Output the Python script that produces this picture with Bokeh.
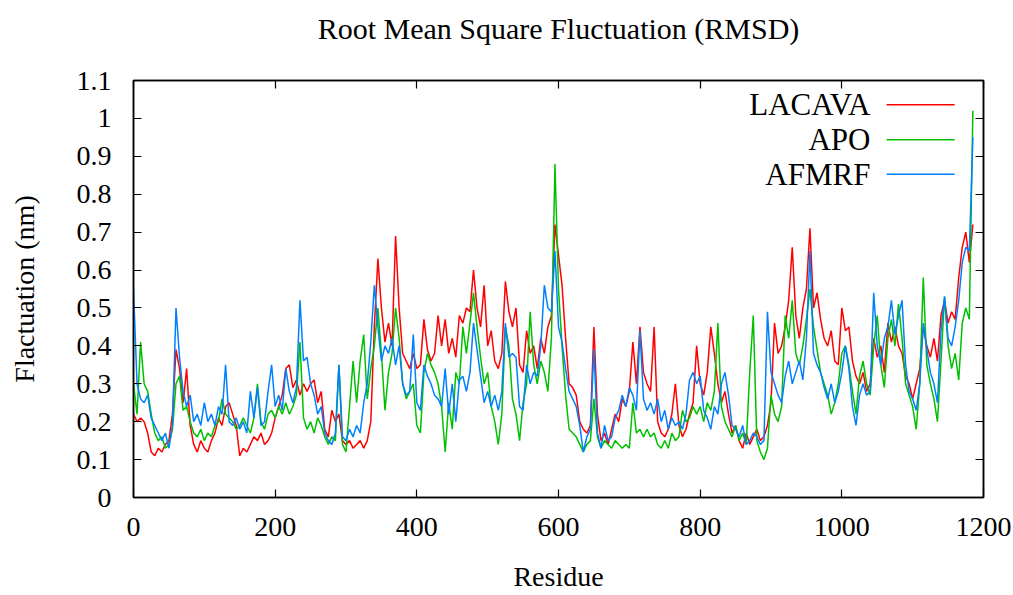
from bokeh.plotting import figure
from bokeh.models import Range1d, LinearAxis, FixedTicker, ColumnDataSource, CustomLabelingPolicy
from bokeh.core.properties import value
from bokeh.embed import file_html
from bokeh.resources import INLINE

# ---------------- data (every 5th residue) ----------------
residue = list(range(0, 1190, 5))

lacava = [
    0.22, 0.20, 0.21, 0.20, 0.17, 0.12, 0.11, 0.13, 0.12, 0.14,
    0.15, 0.22, 0.39, 0.34, 0.25, 0.34, 0.19, 0.14, 0.12, 0.15,
    0.13, 0.12, 0.15, 0.17, 0.21, 0.19, 0.24, 0.25, 0.22, 0.19,
    0.11, 0.13, 0.12, 0.14, 0.16, 0.15, 0.17, 0.14, 0.15, 0.17,
    0.21, 0.24, 0.27, 0.34, 0.35, 0.29, 0.31, 0.27, 0.30, 0.28,
    0.30, 0.31, 0.25, 0.28, 0.18, 0.16, 0.23, 0.20, 0.22, 0.15,
    0.14, 0.15, 0.13, 0.14, 0.15, 0.13, 0.15, 0.20, 0.45, 0.63,
    0.50, 0.41, 0.46, 0.40, 0.69, 0.50, 0.38, 0.36, 0.34, 0.38,
    0.34, 0.35, 0.47, 0.39, 0.36, 0.38, 0.48, 0.40, 0.47, 0.38,
    0.42, 0.37, 0.48, 0.46, 0.50, 0.49, 0.60, 0.50, 0.45, 0.56,
    0.40, 0.44, 0.36, 0.34, 0.38, 0.57, 0.49, 0.45, 0.50, 0.35,
    0.33, 0.44, 0.38, 0.40, 0.34, 0.42, 0.38, 0.45, 0.48, 0.72,
    0.64, 0.56, 0.42, 0.30, 0.29, 0.27, 0.20, 0.18, 0.17, 0.19,
    0.45, 0.22, 0.15, 0.17, 0.14, 0.18, 0.22, 0.20, 0.26, 0.24,
    0.28, 0.41, 0.30, 0.45, 0.33, 0.30, 0.28, 0.45, 0.20, 0.17,
    0.16, 0.18, 0.22, 0.30, 0.19, 0.16, 0.18, 0.22, 0.25, 0.40,
    0.30, 0.27, 0.33, 0.45, 0.38, 0.30, 0.25, 0.28, 0.22, 0.17,
    0.19, 0.15, 0.13, 0.17, 0.14, 0.16, 0.18, 0.15, 0.16, 0.19,
    0.25, 0.46, 0.38, 0.40, 0.45, 0.52, 0.66, 0.48, 0.42, 0.50,
    0.55, 0.71, 0.50, 0.54, 0.47, 0.42, 0.40, 0.44, 0.36, 0.35,
    0.50, 0.44, 0.45, 0.36, 0.32, 0.30, 0.33, 0.28, 0.30, 0.42,
    0.37, 0.40, 0.33, 0.46, 0.41, 0.45, 0.40, 0.38, 0.32, 0.30,
    0.26, 0.30, 0.34, 0.45, 0.40, 0.37, 0.42, 0.36, 0.48, 0.52,
    0.46, 0.49, 0.47, 0.58, 0.66, 0.70, 0.62, 0.72,
]

apo = [
    0.30, 0.22, 0.41, 0.30, 0.28, 0.22, 0.17, 0.15, 0.16, 0.13,
    0.14, 0.18, 0.30, 0.32, 0.23, 0.24, 0.20, 0.17, 0.16, 0.18,
    0.15, 0.17, 0.16, 0.19, 0.20, 0.26, 0.22, 0.21, 0.20, 0.18,
    0.19, 0.21, 0.19, 0.17, 0.21, 0.30, 0.20, 0.18, 0.22, 0.23,
    0.21, 0.24, 0.22, 0.25, 0.22, 0.24, 0.27, 0.41, 0.21, 0.18,
    0.20, 0.17, 0.21, 0.19, 0.16, 0.14, 0.16, 0.15, 0.35, 0.14,
    0.12, 0.24, 0.36, 0.25, 0.36, 0.43, 0.26, 0.34, 0.40, 0.50,
    0.38, 0.23, 0.33, 0.38, 0.50, 0.42, 0.30, 0.26, 0.28, 0.30,
    0.19, 0.17, 0.33, 0.38, 0.35, 0.33, 0.30, 0.24, 0.12, 0.25,
    0.18, 0.33, 0.30, 0.45, 0.38, 0.46, 0.54, 0.45, 0.37, 0.30,
    0.33, 0.24, 0.20, 0.14, 0.22, 0.45, 0.40, 0.26, 0.22, 0.15,
    0.25, 0.30, 0.49, 0.35, 0.30, 0.36, 0.33, 0.28, 0.42, 0.88,
    0.55, 0.40, 0.27, 0.18, 0.17, 0.16, 0.14, 0.12, 0.14, 0.15,
    0.26, 0.16, 0.13, 0.15, 0.14, 0.13, 0.15, 0.14, 0.13, 0.14,
    0.13, 0.25, 0.17, 0.18, 0.16, 0.18, 0.16, 0.17, 0.14, 0.13,
    0.15, 0.13, 0.17, 0.15, 0.16, 0.23, 0.20, 0.21, 0.24, 0.22,
    0.24, 0.20, 0.25, 0.23, 0.28, 0.46, 0.24, 0.20, 0.18, 0.16,
    0.19, 0.15, 0.17, 0.14, 0.33, 0.48, 0.15, 0.12, 0.10, 0.13,
    0.27, 0.22, 0.20, 0.24, 0.48, 0.42, 0.52, 0.38, 0.35, 0.40,
    0.47, 0.55, 0.45, 0.39, 0.33, 0.30, 0.27, 0.22, 0.25, 0.30,
    0.38, 0.40, 0.35, 0.28, 0.22, 0.32, 0.36, 0.30, 0.27, 0.40,
    0.48, 0.35, 0.29, 0.42, 0.47, 0.40, 0.51, 0.42, 0.30, 0.27,
    0.24, 0.18, 0.30, 0.58, 0.35, 0.30, 0.26, 0.20, 0.36, 0.53,
    0.40, 0.34, 0.38, 0.31, 0.46, 0.50, 0.47, 1.02,
]

afmrf = [
    0.55, 0.30, 0.26, 0.25, 0.27, 0.21, 0.19, 0.17, 0.15, 0.17,
    0.13, 0.19, 0.50, 0.37, 0.28, 0.24, 0.27, 0.20, 0.22, 0.19,
    0.25, 0.20, 0.22, 0.19, 0.24, 0.22, 0.35, 0.20, 0.19, 0.21,
    0.18, 0.20, 0.17, 0.28, 0.21, 0.29, 0.19, 0.20, 0.28, 0.35,
    0.24, 0.27, 0.23, 0.34, 0.28, 0.25, 0.29, 0.52, 0.36, 0.37,
    0.30, 0.27, 0.22, 0.24, 0.17, 0.15, 0.14, 0.17, 0.35, 0.16,
    0.15, 0.18, 0.16, 0.19, 0.17, 0.25, 0.30, 0.41, 0.56, 0.45,
    0.36, 0.40, 0.38, 0.42, 0.35, 0.40, 0.30, 0.27, 0.28, 0.43,
    0.25, 0.23, 0.35, 0.32, 0.30, 0.27, 0.26, 0.24, 0.34, 0.22,
    0.30, 0.20, 0.31, 0.32, 0.28, 0.33, 0.46, 0.39, 0.32, 0.25,
    0.28, 0.24, 0.27, 0.23, 0.28, 0.46, 0.37, 0.38, 0.37, 0.24,
    0.23, 0.35, 0.30, 0.33, 0.32, 0.40, 0.56, 0.50, 0.49, 0.65,
    0.45, 0.41, 0.34, 0.28, 0.26, 0.24, 0.19, 0.12, 0.16, 0.18,
    0.39, 0.17, 0.13, 0.19, 0.15, 0.16, 0.21, 0.23, 0.27, 0.24,
    0.29, 0.27, 0.23, 0.44, 0.26, 0.23, 0.25, 0.22, 0.26, 0.20,
    0.23, 0.18, 0.21, 0.19, 0.20, 0.18, 0.22, 0.31, 0.33, 0.30,
    0.32, 0.23, 0.21, 0.18, 0.24, 0.22, 0.30, 0.33, 0.27, 0.19,
    0.18, 0.16, 0.19, 0.14, 0.15, 0.17, 0.16, 0.14, 0.15, 0.49,
    0.33, 0.30, 0.27, 0.25, 0.32, 0.36, 0.30, 0.33, 0.36, 0.31,
    0.42, 0.65, 0.38, 0.35, 0.33, 0.29, 0.26, 0.30, 0.25, 0.28,
    0.33, 0.40, 0.34, 0.24, 0.19, 0.27, 0.30, 0.27, 0.28, 0.54,
    0.40, 0.35, 0.42, 0.45, 0.52, 0.43, 0.48, 0.52, 0.35, 0.28,
    0.26, 0.23, 0.30, 0.46, 0.39, 0.33, 0.30, 0.25, 0.44, 0.53,
    0.42, 0.40, 0.45, 0.52, 0.62, 0.66, 0.65, 0.95,
]

series_names = ["LACAVA", "APO", "AFMRF"]
series_colors = ["#ff0000", "#00c000", "#0080ff"]

x_ticks = [0, 200, 400, 600, 800, 1000, 1200]
y_ticks = [0, 0.1, 0.2, 0.3, 0.4, 0.5, 0.6, 0.7, 0.8, 0.9, 1, 1.1]
y_tick_labels = ["0", "0.1", "0.2", "0.3", "0.4", "0.5", "0.6", "0.7", "0.8", "0.9", "1", "1.1"]

title_text = "Root Mean Square Fluctuation (RMSD)"
x_label = "Residue"
y_label = "Flactuation (nm)"

# ---------------- figure ----------------
FONT = "Liberation Serif"
FS = "28px"

x_min, x_max = 0, 1200
y_min, y_max = 0, 1.1
xr = x_max - x_min
yr = y_max - y_min

p = figure(width=1013, height=595, output_backend="svg", toolbar_location=None,
           x_range=Range1d(x_min, x_max), y_range=Range1d(y_min, y_max),
           min_border_left=133, min_border_right=30, min_border_top=80, min_border_bottom=98)
p.background_fill_color = "white"
p.border_fill_color = "white"
p.outline_line_color = "black"
p.outline_line_width = 1.5
p.xgrid.visible = False
p.ygrid.visible = False

p.title.text = title_text
p.title.text_font = FONT
p.title.text_font_size = "30px"
p.title.text_font_style = "normal"
p.title.align = "center"
p.title.offset = 4
p.title.text_color = "black"
p.title.standoff = 4

no_labels = CustomLabelingPolicy(
    code="for (let i = 0; i < indices.size; i++) { indices.unset(i) } return indices")

def style_axis(ax, show_labels=True, hidden_font="0px", hidden_standoff=0):
    ax.axis_line_color = "black"
    ax.axis_line_width = 1.5
    ax.major_tick_line_color = "black"
    ax.major_tick_line_width = 1.2
    ax.major_tick_in = 8
    ax.major_tick_out = 0
    ax.minor_tick_line_color = None
    ax.major_label_text_font = FONT
    ax.major_label_text_color = "black"
    ax.major_label_text_font_size = FS if show_labels else hidden_font
    ax.axis_label_text_font = FONT
    ax.axis_label_text_font_size = FS
    ax.axis_label_text_font_style = "normal"
    ax.axis_label_text_color = "black"
    if not show_labels:
        ax.major_label_policy = no_labels
        ax.major_label_standoff = hidden_standoff

p.xaxis.ticker = FixedTicker(ticks=x_ticks)
p.yaxis.ticker = FixedTicker(ticks=y_ticks)
p.yaxis.major_label_overrides = dict(zip(y_ticks, y_tick_labels))
style_axis(p.xaxis[0])
style_axis(p.yaxis[0])
p.xaxis.axis_label = x_label
p.yaxis.axis_label = y_label
p.xaxis.major_label_standoff = 20
p.xaxis.axis_label_standoff = 22
p.yaxis.major_label_standoff = 22
p.yaxis.axis_label_standoff = 34

# mirrored ticks (gnuplot draws ticks on all four sides); the top one also keeps
# the title well above the frame
top_ax = LinearAxis(ticker=FixedTicker(ticks=x_ticks))
style_axis(top_ax, show_labels=False, hidden_font="28px", hidden_standoff=13)
p.add_layout(top_ax, "above")
right_ax = LinearAxis(ticker=FixedTicker(ticks=y_ticks))
style_axis(right_ax, show_labels=False)
p.add_layout(right_ax, "right")

# ---------------- series ----------------
series_values = [lacava, apo, afmrf]
for vals, col in zip(series_values, series_colors):
    src = ColumnDataSource(dict(x=residue, y=vals))
    p.line("x", "y", source=src, line_color=col, line_width=1.5)

# ---------------- legend (gnuplot style: label left, sample right) ----------------
leg_text_x = [x_min + 0.867 * xr] * 3
leg_x0 = [x_min + 0.886 * xr] * 3
leg_x1 = [x_min + 0.966 * xr] * 3
leg_y = [y_min + f * yr for f in (0.942, 0.858, 0.775)]
leg_src = ColumnDataSource(dict(tx=leg_text_x, x0=leg_x0, x1=leg_x1, y=leg_y,
                                name=series_names, color=series_colors))
p.text(x="tx", y="y", text="name", source=leg_src, text_align="right",
       text_baseline="middle", text_font=value(FONT), text_font_size="31px",
       text_color="black")
p.segment(x0="x0", y0="y", x1="x1", y1="y", source=leg_src, line_color="color", line_width=1.5)

open("out.html", "w").write(file_html(p, INLINE))
